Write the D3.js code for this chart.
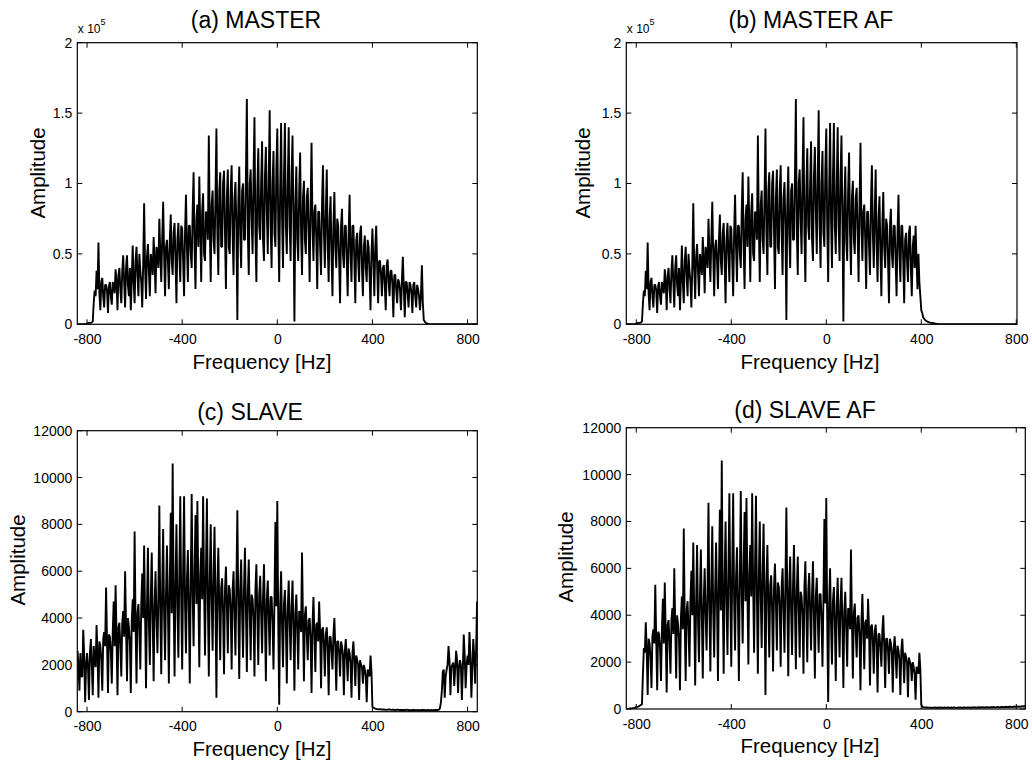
<!DOCTYPE html>
<html>
<head>
<meta charset="utf-8">
<script src="https://cdn.jsdelivr.net/npm/d3@7"></script>
<style>
  body { margin: 0; background: #fff; }
  text { font-family: "Liberation Sans", Arial, Helvetica, sans-serif; fill: #000; }
</style>
</head>
<body>
<script>
const freqStart = -840, freqStep = 4;

const xTicks = [-800, -400, 0, 400, 800];
const masterYTicks = [0, 0.5, 1, 1.5, 2];          // x 10^5
const slaveYTicks = [0, 2000, 4000, 6000, 8000, 10000, 12000];

// (a) MASTER, units of 1e5
const masterAmp = [
  0,0, 0,0, 0,0, 0,0, 0,0.003, 0.005,0.008, 0.01,0.01, 0.01,0.015, 0.02,0.15, 0.24,0.2,
  0.38,0.25, 0.58,0.22, 0.1,0.3, 0.33,0.2, 0.12,0.28, 0.28,0.24, 0.08,0.27, 0.3,0.2, 0.14,0.3, 0.27,0.22,
  0.39,0.3, 0.1,0.35, 0.4,0.25, 0.15,0.38, 0.49,0.3, 0.12,0.4, 0.49,0.28, 0.2,0.4, 0.1,0.32, 0.56,0.3,
  0.15,0.45, 0.55,0.35, 0.2,0.5, 0.38,0.3, 0.12,0.42, 0.86,0.4, 0.18,0.48, 0.57,0.38, 0.2,0.5, 0.45,0.35,
  0.62,0.45, 0.22,0.55, 0.5,0.4, 0.75,0.5, 0.3,0.6, 0.87,0.5, 0.2,0.55, 0.6,0.45, 0.25,0.6, 0.78,0.45,
  0.35,0.65, 0.72,0.45, 0.15,0.6, 0.72,0.5, 0.3,0.7, 0.68,0.45, 0.2,0.65, 0.92,0.55, 0.3,0.7, 0.7,0.5,
  0.4,0.8, 1.08,0.55, 0.25,0.75, 0.85,0.55, 1.05,0.7, 0.3,0.8, 0.93,0.5, 0.45,0.8, 0.78,0.6, 1.34,0.7,
  0.3,0.85, 0.95,0.6, 0.5,0.9, 1.39,0.65, 0.35,0.95, 1.08,0.55, 0.55,1.0, 1.09,0.65, 0.25,0.9, 1.1,0.55,
  0.5,0.95, 1.13,0.65, 0.35,0.9, 1.01,0.7, 0.03,0.85, 1.12,0.65, 0.4,0.95, 1.0,0.6, 0.6,1.05, 1.6,0.65,
  0.35,1.0, 1.1,0.75, 0.5,1.05, 1.47,0.65, 0.3,0.95, 1.25,0.7, 0.6,1.0, 1.3,0.6, 0.45,1.05, 1.26,0.8,
  0.5,1.05, 1.52,0.7, 0.4,1.0, 1.23,0.65, 0.55,1.1, 1.39,0.7, 0.3,0.95, 1.43,0.75, 0.4,1.05, 1.43,0.7,
  0.5,1.0, 1.4,0.7, 0.45,1.05, 1.34,0.75, 0.02,0.85, 1.12,0.6, 0.45,0.95, 1.22,0.65, 0.35,0.9, 1.02,0.6,
  0.5,0.9, 0.97,0.65, 0.3,0.85, 1.29,0.7, 0.45,0.8, 0.85,0.6, 0.25,0.8, 0.8,0.55, 0.35,0.85, 1.13,0.65,
  0.4,0.8, 1.1,0.55, 0.3,0.75, 0.91,0.5, 0.2,0.7, 0.94,0.55, 0.4,0.75, 0.7,0.45, 0.15,0.7, 0.82,0.5,
  0.4,0.7, 0.7,0.45, 0.2,0.65, 0.92,0.5, 0.3,0.7, 0.7,0.45, 0.15,0.6, 0.65,0.45, 0.3,0.65, 0.7,0.4,
  0.2,0.55, 0.63,0.4, 0.3,0.6, 0.55,0.35, 0.1,0.5, 0.68,0.45, 0.2,0.55, 0.7,0.4, 0.15,0.45, 0.45,0.35,
  0.2,0.4, 0.42,0.28, 0.1,0.42, 0.46,0.3, 0.2,0.38, 0.38,0.28, 0.05,0.35, 0.35,0.25, 0.15,0.32, 0.3,0.24,
  0.1,0.32, 0.48,0.25, 0.05,0.3, 0.3,0.22, 0.12,0.3, 0.28,0.22, 0.08,0.28, 0.3,0.2, 0.12,0.28, 0.25,0.2,
  0.1,0.2, 0.42,0.15, 0.03,0.02, 0.01,0.008, 0.005,0.003, 0,0, 0,0, 0,0, 0,0, 0,0,
  0,0,0,0,0,0,0,0,0,0, 0,0,0,0,0,0,0,0,0,0, 0,0,0,0,0,0,0,0,0,0, 0,0,0,0,0,0,0,0,0,0, 0
];

// (b) MASTER AF, units of 1e5
const masterAfAmp = [
  0,0, 0,0, 0,0, 0,0, 0,0.003, 0.005,0.008, 0.01,0.01, 0.01,0.015, 0.02,0.15, 0.24,0.2,
  0.38,0.25, 0.58,0.22, 0.1,0.3, 0.33,0.2, 0.12,0.28, 0.28,0.24, 0.08,0.27, 0.3,0.2, 0.14,0.3, 0.27,0.22,
  0.39,0.3, 0.1,0.35, 0.4,0.25, 0.15,0.38, 0.49,0.3, 0.12,0.4, 0.49,0.28, 0.2,0.4, 0.1,0.32, 0.56,0.3,
  0.15,0.45, 0.55,0.35, 0.2,0.5, 0.38,0.3, 0.12,0.42, 0.86,0.4, 0.18,0.48, 0.57,0.38, 0.2,0.5, 0.45,0.35,
  0.62,0.45, 0.22,0.55, 0.5,0.4, 0.75,0.5, 0.3,0.6, 0.87,0.5, 0.2,0.55, 0.6,0.45, 0.25,0.6, 0.78,0.45,
  0.35,0.65, 0.72,0.45, 0.15,0.6, 0.72,0.5, 0.3,0.7, 0.68,0.45, 0.2,0.65, 0.92,0.55, 0.3,0.7, 0.7,0.5,
  0.4,0.8, 1.08,0.55, 0.25,0.75, 0.85,0.55, 1.05,0.7, 0.3,0.8, 0.93,0.5, 0.45,0.8, 0.78,0.6, 1.34,0.7,
  0.3,0.85, 0.95,0.6, 0.5,0.9, 1.39,0.65, 0.35,0.95, 1.08,0.55, 0.55,1.0, 1.09,0.65, 0.25,0.9, 1.1,0.55,
  0.5,0.95, 1.13,0.65, 0.35,0.9, 1.01,0.7, 0.03,0.85, 1.12,0.65, 0.4,0.95, 1.0,0.6, 0.6,1.05, 1.6,0.65,
  0.35,1.0, 1.1,0.75, 0.5,1.05, 1.47,0.65, 0.3,0.95, 1.25,0.7, 0.6,1.0, 1.3,0.6, 0.45,1.05, 1.26,0.8,
  0.5,1.05, 1.52,0.7, 0.4,1.0, 1.23,0.65, 0.55,1.1, 1.39,0.7, 0.3,0.95, 1.43,0.75, 0.4,1.05, 1.43,0.7,
  0.5,1.0, 1.4,0.7, 0.45,1.05, 1.34,0.75, 0.02,0.85, 1.12,0.6, 0.45,0.95, 1.22,0.65, 0.35,0.9, 1.02,0.6,
  0.5,0.9, 0.97,0.65, 0.3,0.85, 1.29,0.7, 0.45,0.8, 0.85,0.6, 0.25,0.8, 0.8,0.55, 0.35,0.85, 1.13,0.65,
  0.4,0.8, 1.1,0.55, 0.3,0.75, 0.91,0.5, 0.2,0.7, 0.94,0.55, 0.4,0.75, 0.7,0.45, 0.15,0.7, 0.82,0.5,
  0.4,0.7, 0.7,0.45, 0.2,0.65, 0.92,0.5, 0.3,0.7, 0.7,0.45, 0.15,0.6, 0.65,0.45, 0.3,0.65, 0.7,0.4,
  0.2,0.55, 0.63,0.4, 0.7,0.45, 0.25,0.5, 0.3,0.2, 0.1,0.08, 0.05,0.04, 0.03,0.025, 0.02,0.017, 0.015,0.012,
  0.01,0.01, 0.01,0.008, 0.005,0.005, 0.003,0.002, 0,0, 0,0, 0,0, 0,0, 0,0, 0,0,
  0,0,0,0,0,0,0,0,0,0, 0,0,0,0,0,0,0,0,0,0, 0,0,0,0,0,0,0,0,0,0, 0,0,0,0,0,0,0,0,0,0,
  0,0,0,0,0,0,0,0,0,0, 0,0,0,0,0,0,0,0,0,0, 0,0,0,0,0,0,0,0,0,0, 0,0,0,0,0,0,0,0,0,0, 0
];

// (c) SLAVE
const slaveAmp = [
  2600,2000, 900,2500, 1500,1500, 3500,2400, 400,2000, 2500,1900, 500,2500, 3100,2000, 700,2800, 2200,1900,
  3700,2500, 600,3000, 2800,2200, 900,3100, 3400,2800, 5300,3000, 800,3300, 3200,2600, 1200,3400, 4700,2800,
  5400,3200, 700,3600, 3800,2800, 1500,3800, 4300,3200, 6000,3600, 1300,4000, 3600,3000, 800,3900, 4800,3400,
  7700,3800, 1200,4200, 4600,3400, 1800,4600, 5900,4000, 7100,4200, 1000,4500, 7000,3800, 2000,4800, 6800,4000,
  1300,4600, 6000,4000, 2500,5000, 8800,4300, 1600,5300, 7800,4200, 2200,5000, 7100,4500, 1200,5500, 8500,4200,
  10600,4800, 1500,5600, 8000,4500, 2300,5800, 9200,4800, 1800,6000, 9200,4600, 2500,5600, 6900,4400, 1200,5600,
  9300,5000, 2800,6000, 8400,4600, 9000,5000, 1900,5800, 7000,4800, 9200,5400, 2400,6000, 9100,4800, 1500,5600,
  8000,4800, 2600,5800, 7900,4600, 600,5400, 7000,4400, 2200,5300, 5700,4200, 1600,5200, 6200,4500, 2500,5400,
  5200,4400, 1800,5200, 6000,4200, 2400,5400, 8600,4600, 1400,5200, 6500,4200, 2300,5300, 7000,4400, 1700,5100,
  6500,4300, 2200,5000, 4800,4000, 1500,5200, 6300,4200, 2000,5000, 5800,4200, 2500,4900, 6300,4000, 1300,4800,
  5600,4000, 2400,4900, 4900,3800, 1800,4700, 8100,4500, 9000,3800, 300,4500, 6000,3600, 1900,4600, 5200,3700,
  1200,4400, 5600,3800, 2200,4500, 5600,3600, 900,4200, 5000,3500, 1800,4300, 4200,3400, 6800,3800, 1300,4100,
  4500,3300, 2200,3900, 4000,3100, 800,3700, 4900,3300, 1700,3700, 3800,3000, 4700,3400, 1000,3500, 3600,2900,
  1500,3300, 3600,2700, 700,3200, 3200,2600, 1800,3300, 4000,2700, 900,3000, 3000,2500, 1500,3000, 2800,2400,
  700,2600, 3100,2300, 1300,2700, 2500,2100, 600,2500, 3000,2200, 1100,2400, 2200,2000, 500,2200, 2000,1900,
  1200,2000, 1800,1500, 400,1800, 1700,1500, 2400,1700, 200,180, 150,130, 120,110, 100,100, 110,100,
  90,95, 100,90, 80,85, 90,95, 100,90, 80,85, 90,80, 70,80, 90,85, 80,75,
  70,75, 80,75, 70,80, 90,80, 70,65, 60,70, 80,75, 70,65, 60,65, 70,65,
  60,65, 70,75, 80,70, 60,65, 70,65, 60,65, 70,65, 60,70, 80,75, 70,80,
  90,150, 400,900, 1700,1800, 600,1500, 1800,2000, 2800,2200, 700,1900, 2000,2100, 1100,1800, 2600,2200,
  800,1900, 2200,2000, 500,1700, 3300,2400, 1000,2000, 2400,2000, 3400,2400, 600,1800, 3100,2400, 1200,2600, 4700
];

// (d) SLAVE AF
const slaveAfAmp = [
  0,5, 10,15, 20,25, 30,40, 50,65, 80,90, 100,120, 150,180, 200,1500, 2600,2400,
  3700,2500, 600,3000, 2800,2200, 900,3100, 3400,2800, 5300,3000, 800,3300, 3200,2600, 1200,3400, 4700,2800,
  5400,3200, 700,3600, 3800,2800, 1500,3800, 4300,3200, 6000,3600, 1300,4000, 3600,3000, 800,3900, 4800,3400,
  7700,3800, 1200,4200, 4600,3400, 1800,4600, 5900,4000, 7100,4200, 1000,4500, 7000,3800, 2000,4800, 6800,4000,
  1300,4600, 6000,4000, 2500,5000, 8800,4300, 1600,5300, 7800,4200, 2200,5000, 7100,4500, 1200,5500, 8500,4200,
  10600,4800, 1500,5600, 8000,4500, 2300,5800, 9200,4800, 1800,6000, 9200,4600, 2500,5600, 6900,4400, 1200,5600,
  9300,5000, 2800,6000, 8400,4600, 9000,5000, 1900,5800, 7000,4800, 9200,5400, 2400,6000, 9100,4800, 1500,5600,
  8000,4800, 2600,5800, 7900,4600, 600,5400, 7000,4400, 2200,5300, 5700,4200, 1600,5200, 6200,4500, 2500,5400,
  5200,4400, 1800,5200, 6000,4200, 2400,5400, 8600,4600, 1400,5200, 6500,4200, 2300,5300, 7000,4400, 1700,5100,
  6500,4300, 2200,5000, 4800,4000, 1500,5200, 6300,4200, 2000,5000, 5800,4200, 2500,4900, 6300,4000, 1300,4800,
  5600,4000, 2400,4900, 4900,3800, 1800,4700, 8100,4500, 9000,3800, 300,4500, 6000,3600, 1900,4600, 5200,3700,
  1200,4400, 5600,3800, 2200,4500, 5600,3600, 900,4200, 5000,3500, 1800,4300, 4200,3400, 6800,3800, 1300,4100,
  4500,3300, 2200,3900, 4000,3100, 800,3700, 4900,3300, 1700,3700, 3800,3000, 4700,3400, 1000,3500, 3600,2900,
  1500,3300, 3600,2700, 700,3200, 3200,2600, 1800,3300, 4000,2700, 900,3000, 3000,2500, 1500,3000, 2800,2400,
  700,2600, 3100,2300, 1300,2700, 2500,2100, 600,2500, 3000,2200, 1100,2400, 2200,2000, 500,2200, 2000,1900,
  1200,2000, 1800,1500, 400,1800, 1700,1500, 2400,1700, 200,100, 80,70, 60,65, 70,60, 60,55,
  60,55,50,60,70,55,60,50,65,55,60,70,50,55,60,65,50,60,70,55,
  60,50,65,55,60,70,60,50,55,65,60,70,55,60,50,65,70,55,60,65,
  70,60,55,65,70,60,75,65,60,70,65,75,60,70,80,65,70,60,75,70,
  80,70,65,75,80,70,85,75,70,80,90,75,80,70,85,90,75,80,95,85,
  90,80,95,85,100,90,80,95,105,90,100,110,95,100,90,115,105,120,100,130, 110
];

const panels = [
  { title: "(a) MASTER", values: masterAmp, x0: 77.3, x1: 477.3, y0: 42.7, y1: 324.3,
    xDomain: [-841, 841], yTicks: masterYTicks, yMax: 2, exponent: true,
    titleX: 256, titleY: 28, ylabX: 45, ylabY: 173, xlabX: 262, xlabY: 369 },
  { title: "(b) MASTER AF", values: masterAfAmp, x0: 626.3, x1: 1017, y0: 42.7, y1: 324.3,
    xDomain: [-842, 803], yTicks: masterYTicks, yMax: 2, exponent: true,
    titleX: 811, titleY: 28, ylabX: 590, ylabY: 173, xlabX: 810, xlabY: 369 },
  { title: "(c) SLAVE", values: slaveAmp, x0: 77.3, x1: 477.3, y0: 430.7, y1: 711.7,
    xDomain: [-841, 841], yTicks: slaveYTicks, yMax: 12000, exponent: false,
    titleX: 250, titleY: 420, ylabX: 25, ylabY: 560, xlabX: 262, xlabY: 756 },
  { title: "(d) SLAVE AF", values: slaveAfAmp, x0: 626.3, x1: 1025.3, y0: 427.7, y1: 709,
    xDomain: [-842, 838], yTicks: slaveYTicks, yMax: 12000, exponent: false,
    titleX: 805, titleY: 418, ylabX: 573, ylabY: 557, xlabX: 810, xlabY: 753 }
];

const svg = d3.select("body").append("svg")
  .attr("width", 1032).attr("height", 762);

panels.forEach((p, k) => {
  const x = d3.scaleLinear().domain(p.xDomain).range([p.x0, p.x1]);
  const y = d3.scaleLinear().domain([0, p.yMax]).range([p.y1, p.y0]);
  const g = svg.append("g");

  g.append("clipPath").attr("id", "clip" + k)
    .append("rect")
    .attr("x", p.x0).attr("y", p.y0 - 2)
    .attr("width", p.x1 - p.x0).attr("height", p.y1 - p.y0 + 2);

  const line = d3.line()
    .x((d, i) => x(freqStart + i * freqStep))
    .y(d => y(d));

  g.append("path")
    .datum(p.values)
    .attr("clip-path", "url(#clip" + k + ")")
    .attr("fill", "none")
    .attr("stroke", "#000")
    .attr("stroke-width", 1.9)
    .attr("stroke-linejoin", "bevel")
    .attr("d", line);

  // box with inward ticks on all sides (matlab style)
  const inner = 5;
  const axB = d3.axisBottom(x).tickValues(xTicks).tickSize(0).tickFormat(d => d);
  const bottom = g.append("g").attr("transform", `translate(0,${p.y1})`).call(axB);
  bottom.select(".domain").remove();
  bottom.selectAll("text").attr("dy", null).attr("y", 19.5).style("font-size", "14px");

  const axL = d3.axisLeft(y).tickValues(p.yTicks).tickSize(0).tickFormat(d => d);
  const left = g.append("g").attr("transform", `translate(${p.x0},0)`).call(axL);
  left.select(".domain").remove();
  left.selectAll("text").attr("x", -5).style("font-size", "14px");

  xTicks.forEach(t => {
    const xx = x(t);
    if (xx < p.x0 || xx > p.x1) return;
    g.append("line").attr("x1", xx).attr("x2", xx).attr("y1", p.y1).attr("y2", p.y1 - inner).attr("stroke", "#000");
    g.append("line").attr("x1", xx).attr("x2", xx).attr("y1", p.y0).attr("y2", p.y0 + inner).attr("stroke", "#000");
  });
  p.yTicks.forEach(t => {
    const yy = y(t);
    g.append("line").attr("x1", p.x0).attr("x2", p.x0 + inner).attr("y1", yy).attr("y2", yy).attr("stroke", "#000");
    g.append("line").attr("x1", p.x1).attr("x2", p.x1 - inner).attr("y1", yy).attr("y2", yy).attr("stroke", "#000");
  });

  g.append("rect")
    .attr("x", p.x0).attr("y", p.y0)
    .attr("width", p.x1 - p.x0).attr("height", p.y1 - p.y0)
    .attr("fill", "none").attr("stroke", "#000").attr("stroke-width", 1.2);

  if (p.exponent) {
    const e = g.append("text").attr("x", p.x0 + 0.5).attr("y", p.y0 - 9.5).style("font-size", "12px");
    e.append("tspan").text("x 10");
    e.append("tspan").attr("dy", -8).style("font-size", "9px").text("5");
  }

  g.append("text")
    .attr("x", p.titleX).attr("y", p.titleY)
    .attr("text-anchor", "middle")
    .style("font-size", "23px")
    .text(p.title);

  g.append("text")
    .attr("x", p.xlabX).attr("y", p.xlabY)
    .attr("text-anchor", "middle")
    .style("font-size", "20.5px")
    .text("Frequency [Hz]");

  g.append("text")
    .attr("transform", `translate(${p.ylabX},${p.ylabY}) rotate(-90)`)
    .attr("text-anchor", "middle")
    .style("font-size", "20.5px")
    .text("Amplitude");
});
</script>
</body>
</html>
